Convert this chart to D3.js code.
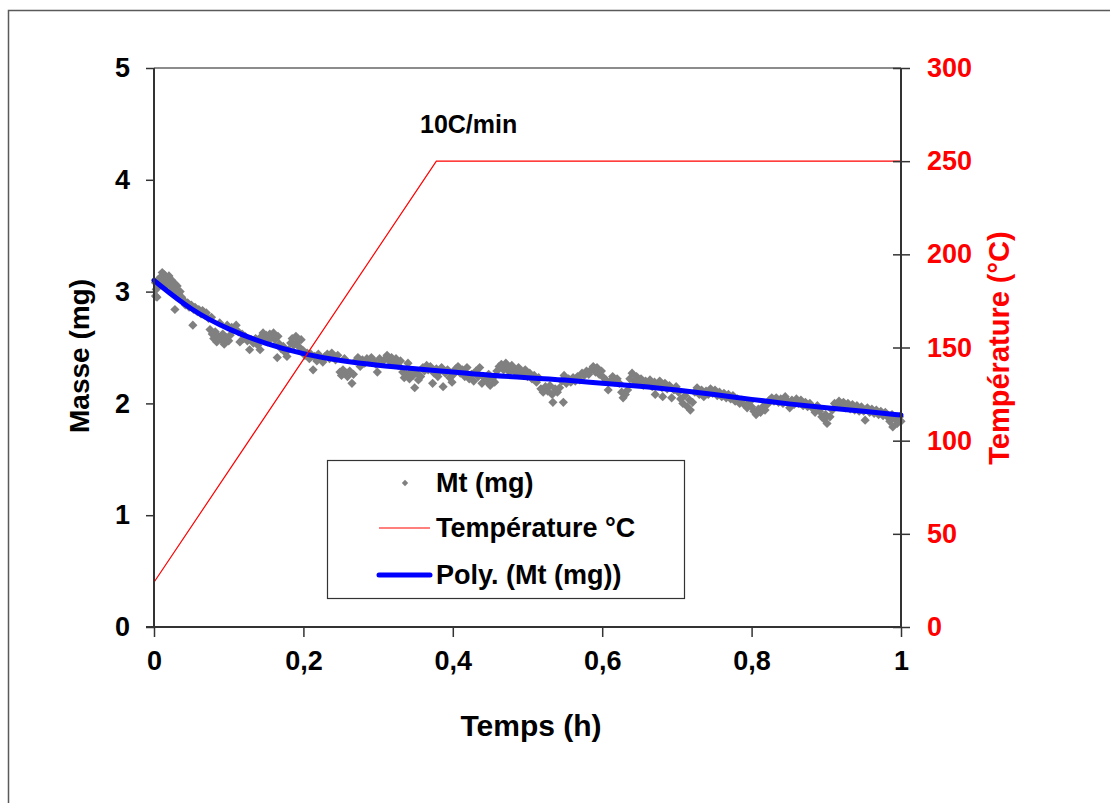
<!DOCTYPE html>
<html><head><meta charset="utf-8">
<script src="https://cdn.jsdelivr.net/npm/d3@7"></script>
<style>html,body{margin:0;padding:0;background:#fff;}svg{display:block;font-family:"Liberation Sans",Arial,sans-serif;font-weight:bold;}</style>
</head><body>
<script>
// ---- data ----
const massTicks = [0, 1, 2, 3, 4, 5];
const tempTicks = [0, 50, 100, 150, 200, 250, 300];
const timeTicks = [0, 0.2, 0.4, 0.6, 0.8, 1];
const timeTickLabels = ["0", "0,2", "0,4", "0,6", "0,8", "1"];

// temperature programme (10 °C/min)
const tempTime = [0, 0.378, 1];
const tempValue = [24, 250, 250];

// polynomial trend of Mt (mg)
const polyTime = [0, 0.05, 0.1, 0.15, 0.2, 0.25, 0.3, 0.35, 0.4, 0.45, 0.5, 0.55, 0.6, 0.65, 0.7, 0.75, 0.8, 0.85, 0.9, 0.95, 1.0];
const polyMass = [3.10, 2.83, 2.66, 2.53, 2.44, 2.38, 2.34, 2.31, 2.28, 2.25, 2.23, 2.21, 2.18, 2.155, 2.12, 2.08, 2.035, 1.995, 1.96, 1.93, 1.896];

// measured Mt (mg) : [time h, mass mg]
const mtPoints = [
[0.002,3.08],[0.002,2.96],[0.003,3.02],[0.004,2.95],[0.006,3.11],[0.008,3.06],[0.009,3.13],[0.011,3.17],[0.012,3.09],[0.014,3.15],[0.015,3.04],[0.017,3.12],[0.019,3.08],[0.020,3.14],[0.022,3.05],[0.024,3.10],[0.026,3.03],[0.028,3.07],[0.029,2.99],[0.031,3.05],[0.033,2.98],
[0.025,3.01],[0.032,2.96],[0.035,3.00],[0.037,2.95],[0.028,2.84],[0.040,2.92],[0.042,2.88],[0.045,2.90],[0.047,2.86],[0.050,2.88],[0.052,2.70],[0.053,2.84],[0.055,2.86],[0.058,2.82],[0.060,2.84],[0.063,2.80],[0.065,2.83],[0.068,2.79],[0.070,2.81],
[0.073,2.76],[0.075,2.66],[0.077,2.77],[0.078,2.62],[0.080,2.58],[0.082,2.64],[0.084,2.55],[0.086,2.60],[0.088,2.72],[0.090,2.57],[0.092,2.62],[0.094,2.53],[0.096,2.59],[0.098,2.70],[0.100,2.56],[0.102,2.61],[0.104,2.68],[0.107,2.66],[0.110,2.70],[0.113,2.64],[0.115,2.55],
[0.118,2.62],[0.120,2.58],[0.122,2.60],[0.125,2.56],[0.128,2.48],[0.130,2.57],[0.133,2.54],[0.136,2.58],[0.139,2.52],[0.142,2.48],[0.144,2.60],[0.146,2.63],[0.148,2.58],[0.150,2.61],[0.152,2.55],[0.155,2.62],[0.157,2.59],[0.160,2.63],[0.162,2.57],[0.165,2.41],[0.166,2.60],[0.168,2.53],[0.170,2.49],[0.173,2.51],[0.175,2.46],[0.178,2.42],[0.180,2.48],[0.183,2.54],[0.185,2.58],[0.187,2.52],[0.190,2.60],[0.192,2.55],[0.195,2.50],[0.197,2.57],[0.200,2.47],[0.202,2.43],
[0.205,2.45],[0.208,2.40],[0.210,2.44],[0.213,2.30],[0.215,2.42],[0.218,2.38],[0.220,2.44],[0.223,2.40],[0.226,2.37],[0.229,2.42],[0.232,2.44],[0.235,2.40],[0.238,2.45],[0.240,2.41],[0.243,2.39],[0.246,2.43],[0.249,2.28],[0.251,2.25],[0.253,2.30],[0.255,2.40],[0.257,2.27],[0.259,2.24],[0.262,2.29],[0.265,2.18],[0.267,2.26],[0.270,2.38],[0.273,2.41],[0.276,2.33],[0.279,2.39],[0.282,2.36],[0.285,2.40],[0.288,2.37],[0.291,2.41],[0.294,2.38],[0.297,2.35],[0.299,2.28],[0.302,2.40],[0.305,2.37],[0.308,2.39],[0.312,2.43],[0.315,2.38],[0.318,2.41],
[0.321,2.36],[0.324,2.40],[0.327,2.34],[0.330,2.38],[0.333,2.28],[0.335,2.23],[0.338,2.26],[0.340,2.36],[0.342,2.22],[0.345,2.29],[0.347,2.25],[0.349,2.14],[0.352,2.27],[0.354,2.21],[0.357,2.24],[0.360,2.32],[0.362,2.29],[0.365,2.34],[0.367,2.30],[0.370,2.33],[0.373,2.18],[0.375,2.27],[0.378,2.31],[0.380,2.24],[0.383,2.29],[0.385,2.32],[0.387,2.15],[0.390,2.27],[0.393,2.30],[0.396,2.23],[0.399,2.19],[0.401,2.26],
[0.404,2.31],[0.407,2.33],[0.410,2.27],[0.413,2.30],[0.416,2.24],[0.419,2.32],[0.422,2.22],[0.425,2.26],[0.428,2.20],[0.431,2.29],[0.434,2.24],[0.436,2.32],[0.439,2.18],[0.442,2.23],[0.445,2.20],[0.448,2.26],[0.450,2.16],[0.453,2.22],[0.456,2.19],[0.459,2.29],[0.462,2.33],[0.465,2.35],[0.468,2.30],[0.471,2.36],[0.473,2.33],[0.476,2.28],[0.479,2.34],[0.482,2.31],[0.485,2.27],[0.488,2.32],[0.491,2.29],[0.494,2.26],[0.497,2.30],[0.500,2.24],[0.503,2.27],
[0.506,2.22],[0.509,2.25],[0.512,2.19],[0.515,2.23],[0.518,2.13],[0.521,2.10],[0.524,2.15],[0.527,2.11],[0.530,2.16],[0.533,2.08],[0.534,2.01],[0.537,2.13],[0.540,2.10],[0.543,2.14],[0.546,2.20],[0.548,2.01],[0.549,2.25],[0.552,2.18],[0.555,2.22],[0.558,2.19],[0.561,2.23],[0.564,2.20],[0.567,2.24],[0.570,2.21],[0.573,2.27],[0.576,2.25],[0.579,2.29],[0.582,2.26],[0.585,2.30],[0.588,2.33],[0.591,2.28],[0.593,2.32],[0.596,2.26],[0.599,2.29],[0.602,2.23],[0.605,2.21],[0.608,2.12],
[0.611,2.20],[0.614,2.24],[0.617,2.19],[0.620,2.22],[0.623,2.18],[0.626,2.10],[0.628,2.05],[0.631,2.08],[0.634,2.12],[0.637,2.22],[0.640,2.27],[0.643,2.20],[0.646,2.24],[0.649,2.18],[0.652,2.22],[0.655,2.16],[0.658,2.20],[0.661,2.17],[0.664,2.21],[0.667,2.15],[0.670,2.19],[0.671,2.08],[0.674,2.16],[0.677,2.20],[0.680,2.14],[0.681,2.06],[0.684,2.18],[0.687,2.13],[0.690,2.16],[0.693,2.05],[0.696,2.12],[0.699,2.15],
[0.702,2.10],[0.705,2.04],[0.708,2.00],[0.711,2.07],[0.714,1.97],[0.717,2.03],[0.718,1.94],[0.721,2.01],[0.724,2.10],[0.727,2.14],[0.730,2.08],[0.733,2.12],[0.736,2.06],[0.739,2.11],[0.742,2.08],[0.745,2.13],[0.748,2.09],[0.751,2.12],[0.754,2.07],[0.757,2.10],[0.760,2.06],[0.763,2.09],[0.766,2.05],[0.769,2.08],[0.772,2.04],[0.775,2.07],[0.778,2.02],[0.781,2.04],[0.784,2.00],[0.787,2.03],[0.790,1.99],[0.794,1.96],[0.797,2.01],[0.800,1.97],
[0.803,1.93],[0.806,1.90],[0.809,1.95],[0.812,1.92],[0.815,1.97],[0.818,1.94],[0.821,1.99],[0.824,2.03],[0.827,2.05],[0.830,2.02],[0.833,2.05],[0.836,2.01],[0.839,2.04],[0.842,2.00],[0.845,2.06],[0.848,2.02],[0.851,1.96],[0.854,2.03],[0.857,1.99],[0.860,2.04],[0.863,2.00],[0.866,2.03],[0.869,1.98],[0.872,2.01],[0.875,1.97],[0.878,2.00],[0.881,1.96],[0.885,1.92],[0.888,1.98],[0.891,1.93],[0.894,1.88],[0.897,1.86],[0.899,1.90],[0.901,1.82],
[0.905,1.88],[0.908,1.94],[0.911,2.00],[0.914,1.97],[0.917,2.02],[0.920,1.98],[0.923,2.01],[0.926,1.96],[0.929,2.00],[0.932,1.95],[0.935,1.99],[0.938,1.94],[0.941,1.98],[0.944,1.93],[0.947,1.97],[0.950,1.93],[0.952,1.85],[0.955,1.96],[0.958,1.92],[0.961,1.95],[0.964,1.91],[0.967,1.94],[0.970,1.90],[0.973,1.93],[0.976,1.89],[0.979,1.92],[0.982,1.88],[0.985,1.84],[0.988,1.90],[0.989,1.79],[0.992,1.86],[0.995,1.82],[0.998,1.88],[1.000,1.84]
];

const legendItems = ["Mt (mg)", "Température °C", "Poly. (Mt (mg))"];

// ---- layout ----
const W = 1110, H = 803;
const L = 154, R = 901, T = 68, B = 627;

const svg = d3.select("body").append("svg").attr("width", W).attr("height", H);

// outer frame
svg.append("rect").attr("x", 8.5).attr("y", 10.5).attr("width", W + 20).attr("height", H + 20)
  .attr("fill", "none").attr("stroke", "#5a5a5a").attr("stroke-width", 1.5);

const x = d3.scaleLinear().domain([0, 1]).range([L, R]);
const yM = d3.scaleLinear().domain([0, 5]).range([B, T]);
const yT = d3.scaleLinear().domain([0, 300]).range([B, T]);

// top border of plot area
svg.append("line").attr("x1", L).attr("x2", R).attr("y1", T).attr("y2", T)
  .attr("stroke", "#8c8c8c").attr("stroke-width", 2);

// square diamond marker
const diamondPath = r => `M0,${-r}L${r},0L0,${r}L${-r},0Z`;

// scatter
svg.append("g").selectAll("path").data(mtPoints).join("path")
  .attr("d", diamondPath(4.6))
  .attr("transform", d => `translate(${x(d[0])},${yM(d[1])})`)
  .attr("fill", "#808080");

// poly trend
svg.append("path").datum(d3.zip(polyTime, polyMass))
  .attr("d", d3.line().x(d => x(d[0])).y(d => yM(d[1])).curve(d3.curveBasis))
  .attr("fill", "none").attr("stroke", "#0000ff").attr("stroke-width", 5).attr("stroke-linecap", "round");

// temperature
svg.append("path").datum(d3.zip(tempTime, tempValue))
  .attr("d", d3.line().x(d => x(d[0])).y(d => yT(d[1])))
  .attr("fill", "none").attr("stroke", "#ff0000").attr("stroke-width", 1.2);

// axes
const axisColor = "#333";
function styleAxis(g) {
  g.select(".domain").remove();
  g.selectAll(".tick line").attr("stroke", axisColor).attr("stroke-width", 1.5);
  g.selectAll(".tick text").attr("font-size", 27).attr("font-weight", "bold").attr("font-family", "Liberation Sans, Arial, sans-serif");
}
const gl = svg.append("g").attr("transform", `translate(${L},0)`)
  .call(d3.axisLeft(yM).tickValues(massTicks).tickFormat(d3.format("d")).tickSize(8).tickPadding(16));
styleAxis(gl);
gl.selectAll(".tick text").attr("fill", "#000");

const gr = svg.append("g").attr("transform", `translate(${R},0)`)
  .call(d3.axisRight(yT).tickValues(tempTicks).tickFormat(d3.format("d")).tickSize(9).tickPadding(17));
styleAxis(gr);
gr.selectAll(".tick line").attr("x1", -8);
gr.selectAll(".tick text").attr("fill", "#ff0000");

const gb = svg.append("g").attr("transform", `translate(0,${B})`)
  .call(d3.axisBottom(x).tickValues(timeTicks).tickFormat((d, i) => timeTickLabels[i]).tickSize(10).tickPadding(14));
styleAxis(gb);
gb.selectAll(".tick text").attr("fill", "#000");

// axis lines
svg.append("line").attr("x1", L).attr("x2", L).attr("y1", T).attr("y2", B).attr("stroke", axisColor).attr("stroke-width", 2);
svg.append("line").attr("x1", R).attr("x2", R).attr("y1", T).attr("y2", B + 1).attr("stroke", axisColor).attr("stroke-width", 2);
svg.append("line").attr("x1", L - 8).attr("x2", R).attr("y1", B).attr("y2", B).attr("stroke", axisColor).attr("stroke-width", 2);

// titles
svg.append("text").attr("x", 531).attr("y", 736).attr("text-anchor", "middle")
  .attr("font-size", 30).text("Temps (h)");
svg.append("text").attr("transform", `translate(89,${356}) rotate(-90)`).attr("text-anchor", "middle")
  .attr("font-size", 28).text("Masse (mg)");
svg.append("text").attr("transform", `translate(1009,${348}) rotate(-90)`).attr("text-anchor", "middle")
  .attr("font-size", 29).attr("fill", "#ff0000").text("Température (°C)");

svg.append("text").attr("x", 420).attr("y", 133).attr("font-size", 25).text("10C/min");

// legend
const lg = svg.append("g");
lg.append("rect").attr("x", 327.5).attr("y", 460.5).attr("width", 357).attr("height", 138)
  .attr("fill", "#fff").attr("stroke", "#333").attr("stroke-width", 1.2);
const rows = [483, 528, 575];
lg.append("path").attr("d", diamondPath(3.2)).attr("transform", `translate(405,${rows[0]})`).attr("fill", "#808080");
lg.append("line").attr("x1", 379).attr("x2", 430).attr("y1", rows[1]).attr("y2", rows[1]).attr("stroke", "#ff0000").attr("stroke-width", 1.2);
lg.append("line").attr("x1", 379).attr("x2", 430).attr("y1", rows[2]).attr("y2", rows[2]).attr("stroke", "#0000ff").attr("stroke-width", 5).attr("stroke-linecap", "round");
lg.selectAll("text.lt").data(legendItems).join("text").attr("class", "lt")
  .attr("x", 436).attr("y", (d, i) => rows[i]).attr("dy", "0.35em").attr("font-size", 27).text(d => d);
</script>
</body></html>
